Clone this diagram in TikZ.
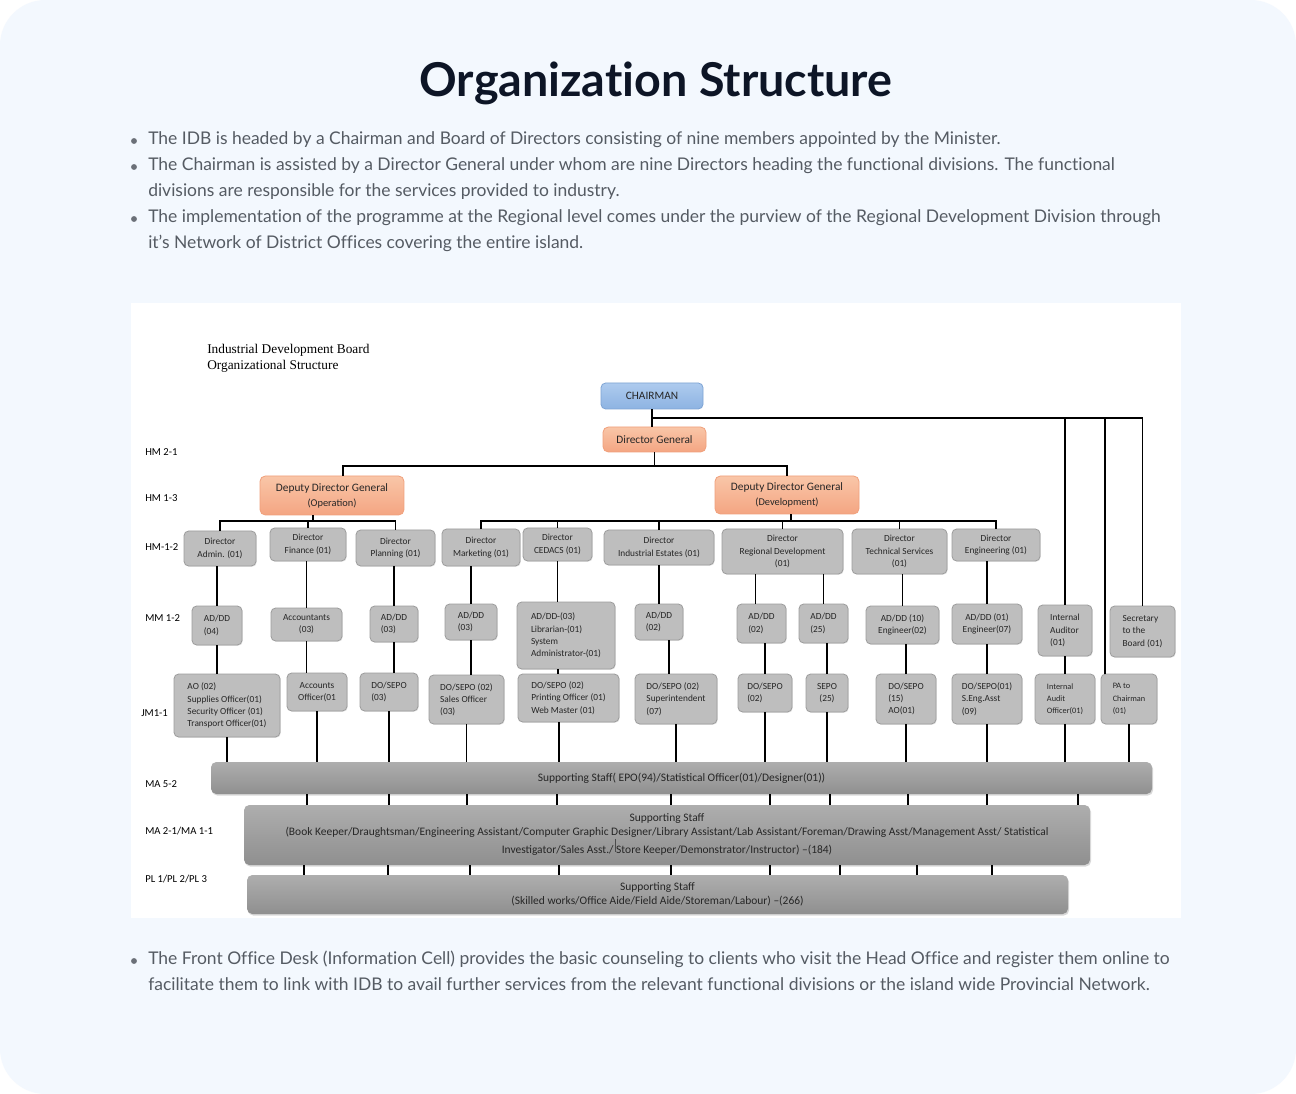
\documentclass[tikz,border=0pt]{standalone}
\usepackage{fontspec}
\setmainfont{Lato}[Ligatures=NoCommon]
\newfontfamily\calfont{Carlito}
\newfontfamily\serfont{Liberation Serif}
\usetikzlibrary{shadows,calc}
\definecolor{pagebg}{HTML}{F3F8FE}
\definecolor{bodytxt}{HTML}{555B63}
\definecolor{titletxt}{HTML}{0D1526}
\definecolor{bulletc}{HTML}{6B7078}
\definecolor{gfill}{HTML}{BEBEBE}
\definecolor{gline}{HTML}{9C9C9C}
\definecolor{txtdark}{HTML}{262626}
\definecolor{bartop}{HTML}{AEAEAE}
\definecolor{barbot}{HTML}{8F8F8F}
\definecolor{bluetop}{HTML}{AECBEE}
\definecolor{bluebot}{HTML}{8DB3E2}
\definecolor{blueline}{HTML}{7EA4D4}
\definecolor{orgtop}{HTML}{F9C6A8}
\definecolor{orgbot}{HTML}{F4A582}
\definecolor{orgline}{HTML}{F0A07C}
\tikzset{
  wh/.style 2 args={minimum width={#1*0.75pt},minimum height={#2*0.75pt}},
  boxbase/.style={inner sep=0pt, align=center, rounded corners=3.5pt, line width=0.6pt},
  gbox/.style={boxbase, draw=gline, fill=gfill, text=txtdark,
    font=\calfont\fontsize{7}{9.2}\selectfont,
    drop shadow={opacity=0.18, shadow xshift=0.6pt, shadow yshift=-0.6pt}},
  lbox/.style={gbox, align=left},
  sbox/.style={gbox, align=left, font=\calfont\fontsize{6.2}{9.2}\selectfont},
  bluebox/.style={boxbase, draw=blueline, top color=bluetop, bottom color=bluebot,
    text=txtdark, font=\calfont\fontsize{8.5}{10}\selectfont},
  orgbox/.style={boxbase, draw=orgline, top color=orgtop, bottom color=orgbot,
    text=txtdark, rounded corners=4pt, font=\calfont\fontsize{8.5}{11.2}\selectfont},
  barbox/.style={inner sep=0pt, align=center, rounded corners=4pt,
    top color=bartop, bottom color=barbot, text=txtdark,
    font=\calfont\fontsize{8.6}{10.5}\selectfont,
    drop shadow={opacity=0.3, shadow xshift=0.8pt, shadow yshift=-1.2pt}},
  conn/.style={line width=1.35pt, black},
  tick/.style={line width=1pt, black},
  lvl/.style={anchor=west, inner sep=0pt, text=black, font=\calfont\fontsize{8}{9}\selectfont},
  hdr/.style={anchor=west, inner sep=0pt, text=black, font=\serfont\fontsize{10}{12}\selectfont},
  body/.style={anchor=mid west, inner sep=0pt, text=bodytxt, font=\fontsize{13.1}{15}\selectfont},
}
\begin{document}
\begin{tikzpicture}[x=0.75pt,y=-0.75pt]
\useasboundingbox (0,0) rectangle (1296,1094);
\fill[white] (0,0) rectangle (1296,1094);
\fill[pagebg, rounded corners=34pt] (0,0) rectangle (1296,1094);

% title and text
\node[anchor=base, inner sep=0pt, text=titletxt, font=\bfseries\fontsize{35}{40}\selectfont] (title) at (656,97) {Organization Structure};
\foreach \y in {141,167,219,961} \fill[bulletc] (134,\y) circle[radius=2.2pt];
\node[body] (t1) at (148,141) {The IDB is headed by a Chairman and Board of Directors consisting of nine members appointed by the Minister.};
\node[body] (t2) at (148,167) {The Chairman is assisted by a Director General under whom are nine Directors heading the functional divisions. The functional};
\node[body] (t3) at (148,193) {divisions are responsible for the services provided to industry.};
\node[body] (t4) at (148,219) {The implementation of the programme at the Regional level comes under the purview of the Regional Development Division through};
\node[body] (t5) at (148,245) {it’s Network of District Offices covering the entire island.};
\node[body] (t6) at (148,961) {The Front Office Desk (Information Cell) provides the basic counseling to clients who visit the Head Office and register them online to};
\node[body] (t7) at (148,987) {facilitate them to link with IDB to avail further services from the relevant functional divisions or the island wide Provincial Network.};

% chart panel
\fill[white] (131,303) rectangle (1181,918);
\node[hdr] (h1) at (207,350) {Industrial Development Board};
\node[hdr] (h2) at (207,366) {Organizational Structure};

% level labels
\node[lvl] (l1) at (145,452) {HM 2-1};
\node[lvl] (l2) at (145,498) {HM 1-3};
\node[lvl] (l3) at (145,547) {HM-1-2};
\node[lvl] (l4) at (145,618) {MM 1-2};
\node[lvl] (l5) at (141,713) {JM1-1};
\node[lvl] (l6) at (145,784) {MA 5-2};
\node[lvl] (l7) at (145,831) {MA 2-1/MA 1-1};
\node[lvl] (l8) at (145,879) {PL 1/PL 2/PL 3};

% top
\node[bluebox, wh={102}{26}] (chair) at (652,396) {CHAIRMAN};
\node[orgbox, wh={103}{25}] (dg) at (654.5,439.5) {Director General};
\node[orgbox, wh={144}{39}] (ddgo) at (332,495.5) {Deputy Director General\\{\fontsize{7.8}{9}\selectfont(Operation)}};
\node[orgbox, wh={144}{38}] (ddgd) at (787,495) {Deputy Director General\\{\fontsize{7.8}{9}\selectfont(Development)}};

% directors
\node[gbox, wh={72}{35}] (dadm) at (220,548.5) {Director\\Admin. (01)};
\node[gbox, wh={76}{33}] (dfin) at (308,544.5) {Director\\Finance (01)};
\node[gbox, wh={79}{36}] (dpln) at (395.5,548) {Director\\Planning (01)};
\node[gbox, wh={78}{37}] (dmkt) at (481,547.5) {Director\\Marketing (01)};
\node[gbox, wh={69}{33}] (dced) at (557.5,544.5) {Director\\CEDACS (01)};
\node[gbox, wh={110}{35}] (dind) at (659,547.5) {Director\\Industrial Estates (01)};
\node[gbox, wh={121}{45}] (dreg) at (782.5,551.5) {Director\\Regional Development\\(01)};
\node[gbox, wh={95}{45}] (dtec) at (899.5,551.5) {Director\\Technical Services\\(01)};
\node[gbox, wh={88}{32}] (deng) at (996,545) {Director\\Engineering (01)};

% middle management
\node[lbox, wh={50}{39}] (madm) at (217,625.5) {AD/DD\\(04)};
\node[gbox, wh={71}{33}] (mfin) at (306.5,624.5) {Accountants\\(03)};
\node[lbox, wh={48}{36}] (mpln) at (394,624) {AD/DD\\(03)};
\node[lbox, wh={52}{36}] (mmkt) at (471,622) {AD/DD\\(03)};
\node[lbox, wh={98}{67}] (mced) at (566,635.5) {AD/DD-(03)\\Librarian-(01)\\System\\Administrator-(01)};
\node[lbox, wh={48}{36}] (mind) at (659,622) {AD/DD\\(02)};
\node[lbox, wh={49}{39}] (mreg1) at (761.5,623.5) {AD/DD\\(02)};
\node[lbox, wh={49}{39}] (mreg2) at (823.5,623.5) {AD/DD\\(25)};
\node[gbox, wh={73}{38}] (mtec) at (902.5,625) {AD/DD (10)\\Engineer(02)};
\node[gbox, wh={70}{40}] (meng) at (987,624) {AD/DD (01)\\Engineer(07)};
\node[lbox, wh={54}{51}] (maud) at (1065,630.5) {Internal\\Auditor\\(01)};
\node[lbox, wh={65}{51}] (msec) at (1142.5,631.5) {Secretary\\to the\\Board (01)};

% junior management
\node[lbox, wh={106}{63}] (jadm) at (227,705.5) {AO (02)\\Supplies Officer(01)\\Security Officer (01)\\Transport Officer(01)};
\node[gbox, wh={60}{38}] (jfin) at (317,692) {Accounts\\Officer(01};
\node[lbox, wh={58}{38}] (jpln) at (389,692) {DO/SEPO\\(03)};
\node[lbox, wh={75}{49}] (jmkt) at (466.5,699.5) {DO/SEPO (02)\\Sales Officer\\(03)};
\node[lbox, wh={101}{48}] (jced) at (568.5,698) {DO/SEPO (02)\\Printing Officer (01)\\Web Master (01)};
\node[lbox, wh={82}{50}] (jind) at (676,699) {DO/SEPO (02)\\Superintendent\\(07)};
\node[lbox, wh={54}{38}] (jreg1) at (765,693) {DO/SEPO\\(02)};
\node[gbox, wh={42}{38}] (jreg2) at (827,693) {SEPO\\(25)};
\node[lbox, wh={60}{50}] (jtec) at (906,699) {DO/SEPO\\(15)\\AO(01)};
\node[lbox, wh={70}{50}] (jeng) at (987,699) {DO/SEPO(01)\\S.Eng.Asst\\(09)};
\node[sbox, wh={60}{50}] (jaud) at (1065,699) {Internal\\Audit\\Officer(01)};
\node[sbox, wh={56}{50}] (jpa) at (1129,699) {PA to\\Chairman\\(01)};

% bars
\node[barbox, wh={941}{32}] (ma5) at (681.5,778) {Supporting Staff( EPO(94)/Statistical Officer(01)/Designer(01))};
\node[barbox, wh={846}{60}] (ma2) at (667,835) {Supporting Staff\\(Book Keeper/Draughtsman/Engineering Assistant/Computer Graphic Designer/Library Assistant/Lab Assistant/Foreman/Drawing Asst/Management Asst/ Statistical\\[3pt]Investigator/Sales Asst./ Store Keeper/Demonstrator/Instructor) –(184)};
\node[barbox, wh={821}{39}] (pl) at (657.5,894.5) {Supporting Staff\\(Skilled works/Office Aide/Field Aide/Storeman/Labour) –(266)};
\draw[line width=0.5pt, black!70] (ma2.center -| 615,0) ++(0,4) -- ++(0,13);

% connectors: chairman
\coordinate (cb) at ([yshift=-6.75pt]chair.south);
\draw[conn] (chair.south) -- (chair.south |- dg.north);
\draw[conn] (cb) -| (msec.north);
\draw[conn] (cb) -| (maud.north);
\draw[conn] (cb) -| ([xshift=-18pt]jpa.north);
% director general
\coordinate (db) at ([yshift=-10.5pt]dg.south);
\draw[conn] (dg.south) -- (db);
\draw[conn] (db) -| ([xshift=8.25pt]ddgo.north);
\draw[conn] (db) -| (ddgd.north);
% DDG operation bus
\coordinate (ob) at ([xshift=-14.25pt,yshift=-4.5pt]ddgo.south);
\draw[conn] ([xshift=-14.25pt]ddgo.south) -- (ob);
\foreach \n in {dadm,dfin,dpln} \draw[conn] (ob) -| (\n.north);
% DDG development bus
\coordinate (vb) at ([xshift=3pt,yshift=-5.25pt]ddgd.south);
\draw[conn] ([xshift=3pt]ddgd.south) -- (vb);
\foreach \n in {dmkt,dced,dind,dreg,dtec,deng} \draw[conn] (vb) -| (\n.north);
% directors to middle management
\draw[conn] (madm.north) -- (madm.north |- dadm.south);
\draw[conn] (mfin.north) -- (mfin.north |- dfin.south);
\draw[conn] (mpln.north) -- (mpln.north |- dpln.south);
\draw[conn] (mmkt.north) -- (mmkt.north |- dmkt.south);
\draw[conn] (dced.south) -- (dced.south |- mced.north);
\draw[conn] (mind.north) -- (mind.north |- dind.south);
\draw[conn] ([xshift=-4.5pt]mreg1.north) -- ([xshift=-4.5pt]mreg1.north |- dreg.south);
\draw[conn] (mreg2.north) -- (mreg2.north |- dreg.south);
\draw[conn] (mtec.north) -- (mtec.north |- dtec.south);
\draw[conn] (meng.north) -- (meng.north |- deng.south);
% middle to junior
\draw[conn] (madm.south) -- (madm.south |- jadm.north);
\draw[conn] (mfin.south) -- (mfin.south |- jfin.north);
\draw[conn] (mpln.south) -- (mpln.south |- jpln.north);
\draw[conn] (mmkt.south) -- (mmkt.south |- jmkt.north);
\draw[conn] ([xshift=-6pt]mced.south) -- ([xshift=-6pt]mced.south |- jced.north);
\draw[conn] ([xshift=7.5pt]mind.south) -- ([xshift=7.5pt]mind.south |- jind.north);
\draw[conn] (jreg1.north) -- (jreg1.north |- mreg1.south);
\draw[conn] (jreg2.north) -- (jreg2.north |- mreg2.south);
\draw[conn] (jtec.north) -- (jtec.north |- mtec.south);
\draw[conn] (meng.south) -- (meng.south |- jeng.north);
\draw[conn] (jaud.north) -- (jaud.north |- maud.south);
% junior to MA 5-2
\foreach \n in {jadm,jfin,jpln,jmkt,jind,jreg1,jreg2,jtec,jeng,jaud,jpa}
  \draw[conn] (\n.south) -- (\n.south |- ma5.north);
\draw[conn] ([xshift=-7pt]jced.south) -- ([xshift=-7pt]jced.south |- ma5.north);
% ticks between bars
\foreach \x in {307,389,467,557,671,770,830,908,987,1078}
  \draw[tick] (ma5.south -| \x,0) -- (ma2.north -| \x,0);
\foreach \x in {304,388,470,559,671,770,840,917,992}
  \draw[tick] (ma2.south -| \x,0) -- (pl.north -| \x,0);
\end{tikzpicture}
\end{document}
